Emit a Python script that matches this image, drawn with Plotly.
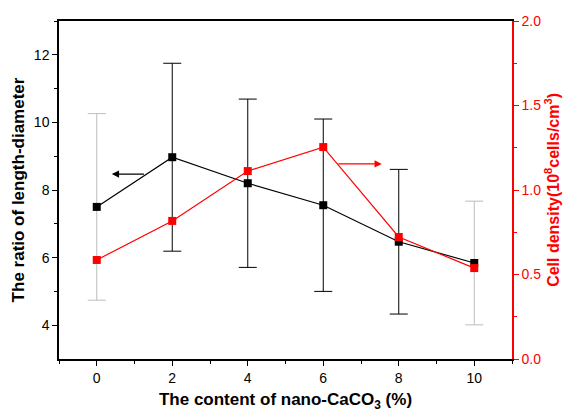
import plotly.graph_objects as go

content = [0, 2, 4, 6, 8, 10]
ratio = [7.50, 8.97, 8.20, 7.55, 6.47, 5.84]
ratio_err = [2.76, 2.78, 2.49, 2.55, 2.14, 1.83]
density = [0.586, 0.817, 1.112, 1.254, 0.722, 0.538]
err_color = ["#bdbdbd", "black", "black", "black", "black", "#bdbdbd"]

font = "Liberation Sans, Arial, sans-serif"
fig = go.Figure()

# error bars, split by colour
for col in ["#bdbdbd", "black"]:
    idx = [i for i, c in enumerate(err_color) if c == col]
    fig.add_trace(go.Scatter(
        x=[content[i] for i in idx], y=[ratio[i] for i in idx],
        mode="markers", marker=dict(size=1, opacity=0),
        error_y=dict(type="data", array=[ratio_err[i] for i in idx],
                     color=col, thickness=1, width=9),
        showlegend=False, hoverinfo="skip", yaxis="y"))

fig.add_trace(go.Scatter(
    x=content, y=ratio, mode="lines+markers",
    line=dict(color="black", width=1.2),
    marker=dict(symbol="square", size=8, color="black"),
    showlegend=False, yaxis="y"))

fig.add_trace(go.Scatter(
    x=content, y=density, mode="lines+markers",
    line=dict(color="red", width=1.2),
    marker=dict(symbol="square", size=8, color="red"),
    showlegend=False, yaxis="y2"))

fig.add_annotation(x=0.40, y=8.47, ax=1.29, ay=8.47, xref="x", yref="y",
                   axref="x", ayref="y", showarrow=True, arrowhead=2,
                   arrowsize=1.2, arrowwidth=1.2, arrowcolor="black", text="")
fig.add_annotation(x=7.55, y=1.154, ax=6.36, ay=1.154, xref="x", yref="y2",
                   axref="x", ayref="y2", showarrow=True, arrowhead=2,
                   arrowsize=1.2, arrowwidth=1.2, arrowcolor="red", text="")

# right axis title as a rotated annotation
fig.add_annotation(x=1.088, y=0.5, xref="paper", yref="paper",
                   xanchor="center", yanchor="middle", textangle=-90,
                   showarrow=False,
                   text="<b>Cell density(10<sup>8</sup>cells/cm<sup>3</sup>)</b>",
                   font=dict(size=16, color="red"))

fig.update_layout(
    width=563, height=412,
    margin=dict(l=59, r=51, t=21, b=53),
    plot_bgcolor="white", paper_bgcolor="white",
    font=dict(family=font, size=14, color="black"),
    xaxis=dict(range=[-1, 11], tickvals=[0, 2, 4, 6, 8, 10], automargin=False,
               ticks="outside", ticklen=5, tickwidth=1, tickcolor="black",
               minor=dict(tickvals=[-1, 1, 3, 5, 7, 9, 11], ticks="outside",
                          ticklen=3, tickcolor="black"),
               showline=True, linecolor="black", linewidth=1.5,
               mirror=True, showgrid=False, zeroline=False,
               title=dict(text="<b>The content of nano-CaCO<sub>3</sub> (%)</b>",
                          font=dict(size=17), standoff=15)),
    yaxis=dict(range=[3, 13], tickvals=[4, 6, 8, 10, 12], automargin=False,
               ticks="outside", ticklen=5, tickwidth=1, tickcolor="black",
               minor=dict(tickvals=[5, 7, 9, 11, 13], ticks="outside",
                          ticklen=3, tickcolor="black"),
               showline=True, linecolor="black", linewidth=1.5,
               showgrid=False, zeroline=False,
               title=dict(text="<b>The ratio of length-diameter</b>",
                          font=dict(size=17), standoff=5)),
    yaxis2=dict(range=[0, 2], tickvals=[0, 0.5, 1.0, 1.5, 2.0], automargin=False,
                tickformat=".1f", overlaying="y", side="right",
                ticks="outside", ticklen=5, tickwidth=1, tickcolor="red",
                minor=dict(tickvals=[0.25, 0.75, 1.25, 1.75], ticks="outside",
                           ticklen=3, tickcolor="red"),
                showline=True, linecolor="red", linewidth=1.5,
                tickfont=dict(color="red"),
                showgrid=False, zeroline=False),
)

# remove the page's default 8px body margin so the figure fills the window
fig.write_html("out.html", config={"displayModeBar": False},
               post_script="document.body.style.margin='0';")
